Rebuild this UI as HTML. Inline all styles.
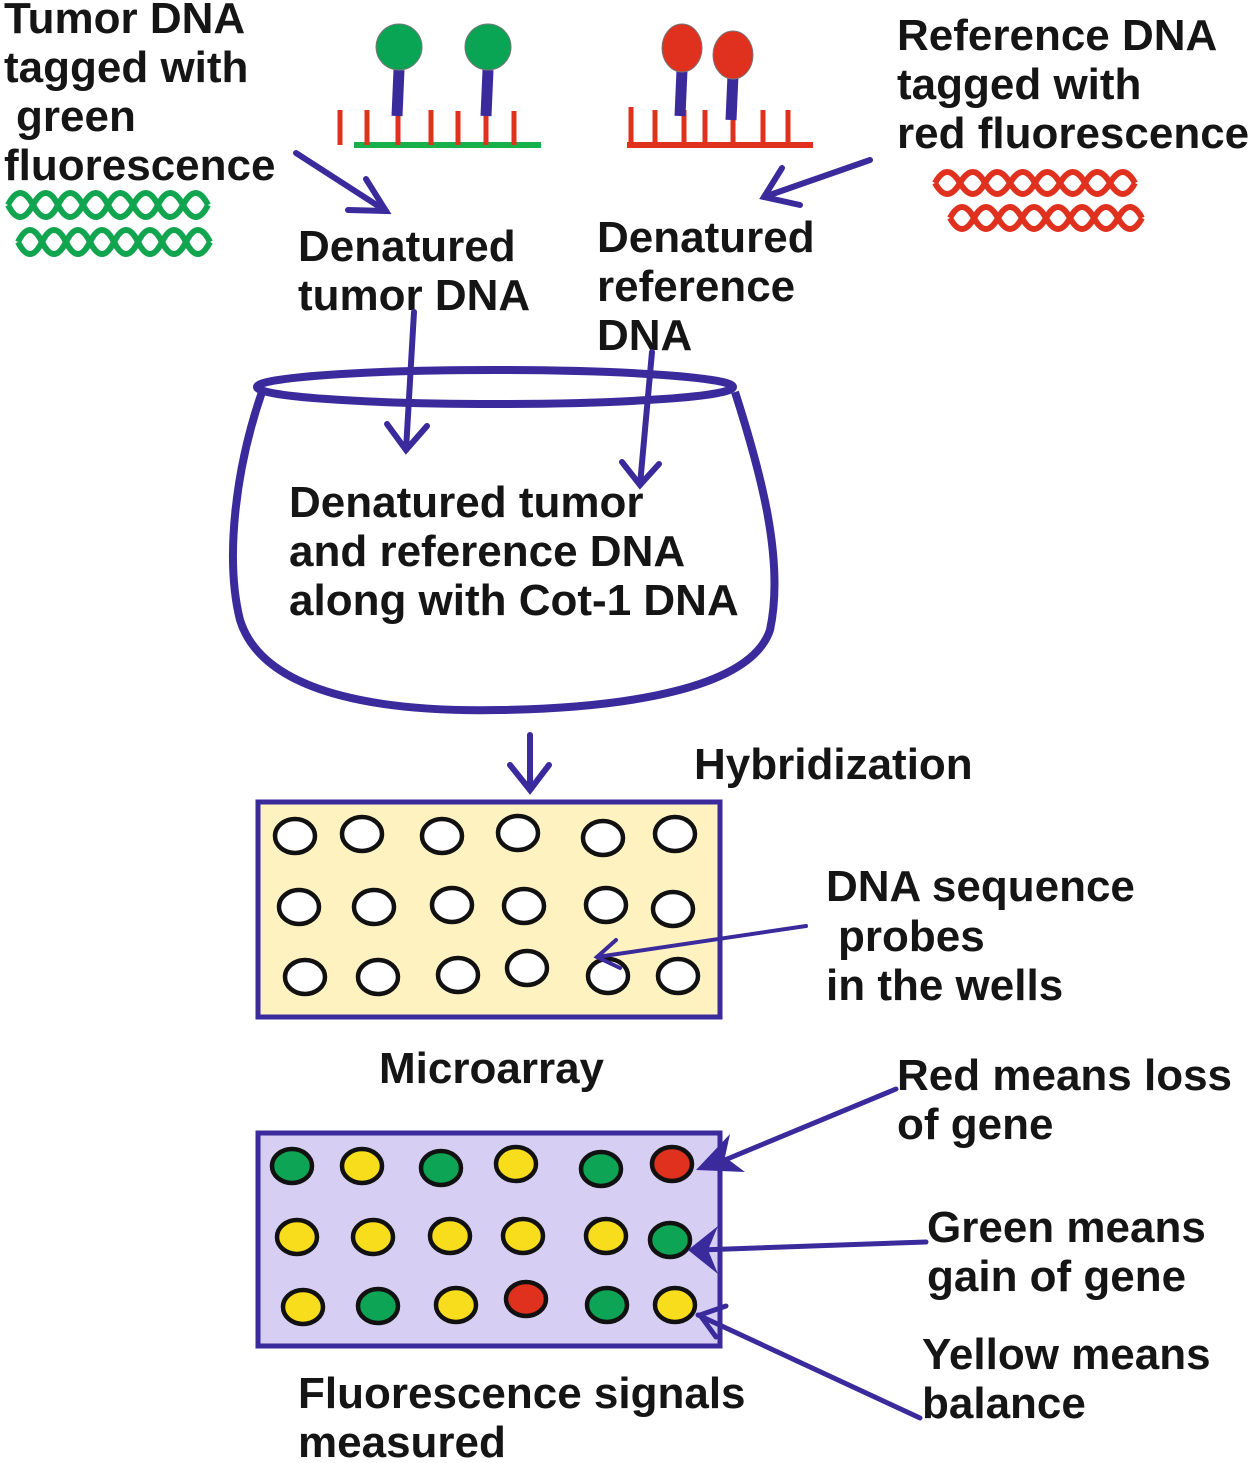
<!DOCTYPE html>
<html><head><meta charset="utf-8"><style>
html,body{margin:0;padding:0;background:#fff}
svg{display:block}
text{font-family:"Liberation Sans",Arial,sans-serif;font-weight:bold;font-size:44px;fill:#151515}
</style></head><body>
<svg width="1252" height="1463" viewBox="0 0 1252 1463" xmlns="http://www.w3.org/2000/svg">
<text x="4" y="33">Tumor DNA</text>
<text x="4" y="82">tagged with</text>
<text x="16" y="131">green</text>
<text x="4" y="180">fluorescence</text>
<g fill="none" stroke="#12a550" stroke-width="6">
<path d="M8,205 q12,-24 25,0 t25,0 t25,0 t25,0 t25,0 t25,0 t25,0 t25,0"/>
<path d="M8,205 q12,24 25,0 t25,0 t25,0 t25,0 t25,0 t25,0 t25,0 t25,0"/>
<path d="M18,242 q12,-24 24,0 t24,0 t24,0 t24,0 t24,0 t24,0 t24,0 t24,0"/>
<path d="M18,242 q12,24 24,0 t24,0 t24,0 t24,0 t24,0 t24,0 t24,0 t24,0"/>
</g>
<g fill="none" stroke="#e0301e" stroke-width="6">
<path d="M935,183 q12,-22 25,0 t25,0 t25,0 t25,0 t25,0 t25,0 t25,0 t25,0"/>
<path d="M935,183 q12,22 25,0 t25,0 t25,0 t25,0 t25,0 t25,0 t25,0 t25,0"/>
<path d="M950,218 q12,-22 24,0 t24,0 t24,0 t24,0 t24,0 t24,0 t24,0 t24,0"/>
<path d="M950,218 q12,22 24,0 t24,0 t24,0 t24,0 t24,0 t24,0 t24,0 t24,0"/>
</g>
<line x1="354" y1="145" x2="541" y2="145" stroke="#18b04a" stroke-width="6"/>
<g stroke="#e0301e" stroke-width="5">
<line x1="340" y1="110" x2="340" y2="145"/>
<line x1="367" y1="110" x2="367" y2="145"/>
<line x1="398" y1="108" x2="398" y2="145"/>
<line x1="431" y1="110" x2="431" y2="145"/>
<line x1="458" y1="111" x2="458" y2="145"/>
<line x1="486" y1="110" x2="486" y2="145"/>
<line x1="514" y1="111" x2="514" y2="145"/>
</g>
<g stroke="#3b2a9c" stroke-width="11">
<line x1="399" y1="70" x2="397" y2="116"/>
<line x1="488" y1="70" x2="486" y2="116"/>
</g>
<circle cx="399" cy="47" r="23" fill="#0aa455" stroke="#777" stroke-width="1"/>
<circle cx="488" cy="47" r="23" fill="#0aa455" stroke="#777" stroke-width="1"/>
<line x1="627" y1="145" x2="813" y2="145" stroke="#e0301e" stroke-width="6"/>
<g stroke="#e0301e" stroke-width="5">
<line x1="631" y1="107" x2="631" y2="145"/>
<line x1="655" y1="110" x2="655" y2="145"/>
<line x1="684" y1="110" x2="684" y2="145"/>
<line x1="705" y1="110" x2="705" y2="145"/>
<line x1="733" y1="110" x2="733" y2="145"/>
<line x1="763" y1="110" x2="763" y2="145"/>
<line x1="788" y1="110" x2="788" y2="145"/>
</g>
<g stroke="#3b2a9c" stroke-width="11">
<line x1="682" y1="70" x2="680" y2="116"/>
<line x1="733" y1="75" x2="731" y2="120"/>
</g>
<ellipse cx="682" cy="48" rx="20" ry="24" fill="#e0301e" stroke="#777" stroke-width="1"/>
<ellipse cx="733" cy="55" rx="20" ry="24" fill="#e0301e" stroke="#777" stroke-width="1"/>
<text x="897" y="50">Reference DNA</text>
<text x="897" y="99">tagged with</text>
<text x="897" y="148">red fluorescence</text>
<g fill="none" stroke="#3b2a9c" stroke-width="6" stroke-linecap="round">
<line x1="296" y1="153" x2="386" y2="211"/>
<polyline points="348,210 386,211 366,179"/>
<line x1="870" y1="160" x2="764" y2="197"/>
<polyline points="782,168 764,197 800,205"/>
</g>
<text x="298" y="261">Denatured</text>
<text x="298" y="310">tumor DNA</text>
<text x="597" y="252">Denatured</text>
<text x="597" y="301">reference</text>
<text x="597" y="350">DNA</text>
<g fill="none" stroke="#3b2a9c" stroke-width="8">
<ellipse cx="495" cy="387" rx="238" ry="17"/>
<path d="M262,392 C235,470 225,560 240,620 C265,700 400,712 500,710 C620,708 750,690 770,630 C785,560 760,470 735,392"/>
</g>
<g fill="none" stroke="#3b2a9c" stroke-width="6" stroke-linecap="round">
<line x1="414" y1="312" x2="406" y2="450"/>
<polyline points="387,424 406,450 427,426"/>
<line x1="652" y1="352" x2="640" y2="485"/>
<polyline points="622,462 640,485 659,464"/>
<line x1="530" y1="735" x2="530" y2="790"/>
<polyline points="510,765 530,790 549,765"/>
</g>
<text x="289" y="517">Denatured tumor</text>
<text x="289" y="566">and reference DNA</text>
<text x="289" y="615">along with Cot-1 DNA</text>
<text x="694" y="779">Hybridization</text>
<rect x="258" y="802" width="462" height="215" fill="#fdf2c0" stroke="#3b2a9c" stroke-width="5"/>
<g fill="#fff" stroke="#111" stroke-width="4.5">
<ellipse cx="295" cy="836" rx="20" ry="17"/><ellipse cx="362" cy="834" rx="20" ry="17"/><ellipse cx="442" cy="836" rx="20" ry="17"/><ellipse cx="518" cy="833" rx="20" ry="17"/><ellipse cx="603" cy="838" rx="20" ry="17"/><ellipse cx="675" cy="834" rx="20" ry="17"/>
<ellipse cx="299" cy="907" rx="20" ry="17"/><ellipse cx="374" cy="907" rx="20" ry="17"/><ellipse cx="452" cy="905" rx="20" ry="17"/><ellipse cx="524" cy="906" rx="20" ry="17"/><ellipse cx="606" cy="905" rx="20" ry="17"/><ellipse cx="673" cy="909" rx="20" ry="17"/>
<ellipse cx="305" cy="977" rx="20" ry="17"/><ellipse cx="378" cy="977" rx="20" ry="17"/><ellipse cx="458" cy="975" rx="20" ry="17"/><ellipse cx="527" cy="968" rx="20" ry="17"/><ellipse cx="608" cy="976" rx="20" ry="17"/><ellipse cx="678" cy="976" rx="20" ry="17"/>
</g>
<g fill="none" stroke="#3b2a9c" stroke-width="4" stroke-linecap="round">
<line x1="806" y1="926" x2="597" y2="957"/>
<polyline points="616,940 597,957 620,968"/>
</g>
<text x="826" y="901">DNA sequence</text>
<text x="838" y="951">probes</text>
<text x="826" y="1000">in the wells</text>
<text x="379" y="1083">Microarray</text>
<rect x="258" y="1133" width="462" height="213" fill="#d6cff3" stroke="#3b2a9c" stroke-width="5"/>
<g stroke="#111" stroke-width="4.5">
<ellipse cx="292" cy="1166" rx="20" ry="17" fill="#0ea456"/><ellipse cx="362" cy="1166" rx="20" ry="17" fill="#f8dd1c"/><ellipse cx="441" cy="1168" rx="20" ry="17" fill="#0ea456"/><ellipse cx="516" cy="1164" rx="20" ry="17" fill="#f8dd1c"/><ellipse cx="601" cy="1169" rx="20" ry="17" fill="#0ea456"/><ellipse cx="672" cy="1164" rx="20" ry="17" fill="#e0301e"/>
<ellipse cx="297" cy="1237" rx="20" ry="17" fill="#f8dd1c"/><ellipse cx="373" cy="1237" rx="20" ry="17" fill="#f8dd1c"/><ellipse cx="450" cy="1236" rx="20" ry="17" fill="#f8dd1c"/><ellipse cx="523" cy="1236" rx="20" ry="17" fill="#f8dd1c"/><ellipse cx="606" cy="1236" rx="20" ry="17" fill="#f8dd1c"/><ellipse cx="670" cy="1240" rx="20" ry="17" fill="#0ea456"/>
<ellipse cx="303" cy="1307" rx="20" ry="17" fill="#f8dd1c"/><ellipse cx="378" cy="1306" rx="20" ry="17" fill="#0ea456"/><ellipse cx="456" cy="1305" rx="20" ry="17" fill="#f8dd1c"/><ellipse cx="526" cy="1299" rx="20" ry="17" fill="#e0301e"/><ellipse cx="607" cy="1305" rx="20" ry="17" fill="#0ea456"/><ellipse cx="675" cy="1305" rx="20" ry="17" fill="#f8dd1c"/>
</g>
<g stroke="#3b2a9c" stroke-width="5" stroke-linecap="round" fill="none">
<line x1="896" y1="1089" x2="720" y2="1162"/>
<line x1="926" y1="1242" x2="700" y2="1250"/>
<line x1="920" y1="1418" x2="698" y2="1315"/>
<polyline points="726,1306 700,1315 716,1337"/>
</g>
<g fill="#3b2a9c">
<polygon points="696,1170 730,1134 725,1157 745,1172"/>
<polygon points="688,1250 718,1226 708,1250 718,1274"/>
</g>
<text x="897" y="1090">Red means loss</text>
<text x="897" y="1139">of gene</text>
<text x="927" y="1242">Green means</text>
<text x="927" y="1291">gain of gene</text>
<text x="922" y="1369">Yellow means</text>
<text x="922" y="1418">balance</text>
<text x="298" y="1408">Fluorescence signals</text>
<text x="298" y="1457">measured</text>
</svg>
</body></html>
